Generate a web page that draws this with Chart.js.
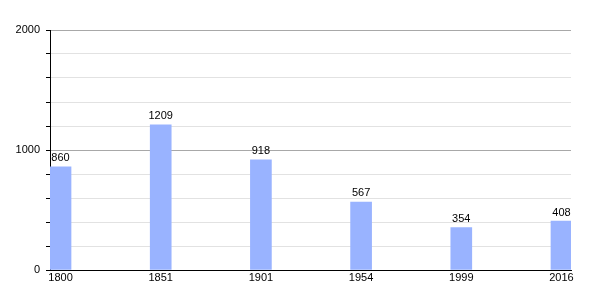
<!DOCTYPE html>
<html>
<head>
<meta charset="utf-8">
<script src="https://cdn.jsdelivr.net/npm/chart.js@4.4.0/dist/chart.umd.min.js"></script>
<style>
  html, body { margin: 0; padding: 0; background: #fff; }
  #wrap { width: 600px; height: 300px; }
</style>
</head>
<body>
<div id="wrap"><canvas id="popChart" width="600" height="300"></canvas></div>
<script>
// population by census year
const years = ['1800', '1851', '1901', '1954', '1999', '2016'];
const population = [860, 1209, 918, 567, 354, 408];
const yTickLabels = [0, 1000, 2000];

// draws the value above each bar
const valueLabels = {
    id: 'valueLabels',
    afterDatasetsDraw(chart) {
        const ctx = chart.ctx;
        const meta = chart.getDatasetMeta(0);
        ctx.save();
        ctx.font = '11px "Liberation Sans", Arial, sans-serif';
        ctx.fillStyle = '#000';
        ctx.textAlign = 'center';
        ctx.textBaseline = 'bottom';
        meta.data.forEach((bar, i) => {
            ctx.fillText(String(population[i]), bar.x, bar.y - 3);
        });
        ctx.restore();
    }
};

Chart.defaults.font.family = '"Liberation Sans", Arial, sans-serif';
Chart.defaults.font.size = 11;
Chart.defaults.color = '#000';

new Chart(document.getElementById('popChart').getContext('2d'), {
    type: 'bar',
    data: {
        datasets: [{
            data: population.map((v, i) => ({ x: i, y: v })),
            backgroundColor: '#99b3ff',
            barThickness: 21,
            borderWidth: 0
        }]
    },
    options: {
        responsive: false,
        animation: false,
        layout: { padding: { top: 30, right: 29, left: 0, bottom: 0 } },
        plugins: { legend: { display: false }, tooltip: { enabled: false } },
        scales: {
            x: {
                type: 'linear',
                offset: false,
                min: -0.105,
                max: 5.095,
                afterBuildTicks: scale => { scale.ticks = years.map((y, i) => ({ value: i })); },
                afterFit: scale => { scale.height = 30; },
                ticks: {
                    autoSkip: false,
                    maxRotation: 0,
                    padding: 1,
                    callback: (v) => years[v]
                },
                grid: { drawOnChartArea: false, drawTicks: false },
                border: { color: '#000', width: 1 }
            },
            y: {
                min: 0,
                max: 2000,
                afterFit: scale => { scale.width = 50; },
                ticks: {
                    stepSize: 200,
                    padding: 6,
                    callback: v => yTickLabels.includes(v) ? String(v) : ''
                },
                grid: {
                    color: c => (c.tick && c.tick.value % 1000 === 0) ? '#a8a8a8' : '#e2e2e2',
                    tickColor: '#000',
                    tickLength: 4
                },
                border: { color: '#000', width: 1 }
            }
        }
    },
    plugins: [valueLabels]
});
</script>
</body>
</html>
